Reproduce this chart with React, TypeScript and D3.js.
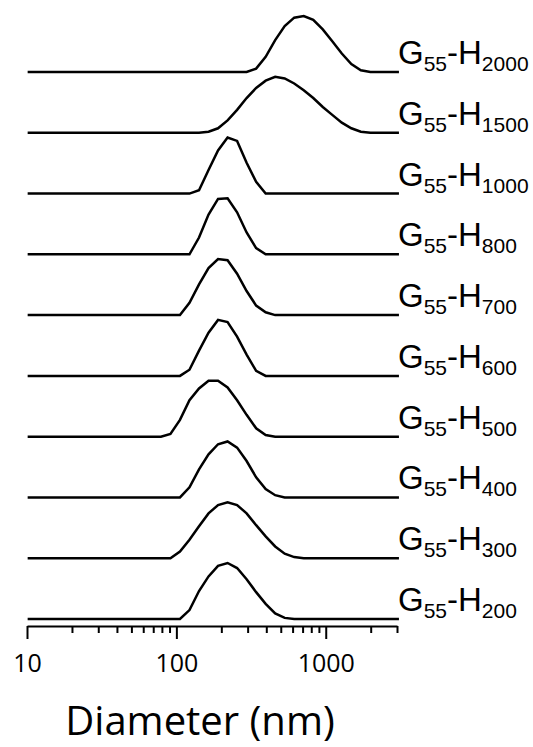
import React, { useEffect, useRef } from "react";
import * as d3 from "d3";

// DLS size bins (nm)
const sizes = [
  10.1, 11.7, 13.54, 15.69, 18.17, 21.04, 24.36, 28.21, 32.67, 37.84,
  43.82, 50.75, 58.77, 68.06, 78.82, 91.28, 105.7, 122.4, 141.8, 164.2,
  190.1, 220.2, 255.0, 295.3, 342.0, 396.1, 458.7, 531.2, 615.1, 712.4,
  825.0, 955.4, 1106, 1281, 1484, 1718, 1990, 2305, 2669, 3091,
];

// normalised intensity, one value per bin
const h2000 = [0,0,0,0,0,0,0,0,0,0,0,0,0,0, 0,0,0,0,0,0,0,0,0,0, 6,27,57,82,97,100,93,76,55,33,14,3, 0,0,0,0];
const h1500 = [0,0,0,0,0,0,0,0,0,0,0,0,0,0, 0,0,0,0,0, 2,8,22,41,62,80,93,100,97,88,76,62,46,32,18,8,2, 0,0,0,0];
const h1000 = [0,0,0,0,0,0,0,0,0,0,0,0,0,0, 0,0,0,0, 6,42,77,100,94,55,21, 0,0,0,0,0,0,0,0,0,0,0,0,0,0,0];
const h800 = [0,0,0,0,0,0,0,0,0,0,0,0,0,0, 0,0,0,0, 30,71,99,100,75,39,11, 0,0,0,0,0,0,0,0,0,0,0,0,0,0,0];
const h700 = [0,0,0,0,0,0,0,0,0,0,0,0,0,0, 0,0,0, 22,55,84,100,98,74,43,17,5, 0,0,0,0,0,0,0,0,0,0,0,0,0,0];
const h600 = [0,0,0,0,0,0,0,0,0,0,0,0,0,0, 0,0,0, 11,45,77,100,96,70,38,9, 0,0,0,0,0,0,0,0,0,0,0,0,0,0,0];
const h500 = [0,0,0,0,0,0,0,0,0,0,0,0,0,0, 0, 5,30,65,86,100,100,88,65,39,15,3, 0,0,0,0,0,0,0,0,0,0,0,0,0,0];
const h400 = [0,0,0,0,0,0,0,0,0,0,0,0,0,0, 0,0,0, 18,50,77,95,100,89,65,36,15,4, 0,0,0,0,0,0,0,0,0,0,0,0,0];
const h300 = [0,0,0,0,0,0,0,0,0,0,0,0,0,0, 0,0, 12,33,57,80,95,100,95,80,59,39,21,8,2, 0,0,0,0,0,0,0,0,0,0,0];
const h200 = [0,0,0,0,0,0,0,0,0,0,0,0,0,0, 0,0,0, 16,50,76,95,100,91,71,48,27,10,2, 0,0,0,0,0,0,0,0,0,0,0,0];

const samples = ["2000", "1500", "1000", "800", "700", "600", "500", "400", "300", "200"];
const series = [h2000, h1500, h1000, h800, h700, h600, h500, h400, h300, h200];

const majorTicks = [10, 100, 1000];
const minorTicks = [20, 30, 40, 50, 60, 70, 80, 90, 200, 300, 400, 500, 600, 700, 800, 900, 2000, 3000];

const W = 533;
const H = 747;

const App = () => {
  const svg = useRef<SVGSVGElement>(null);

  useEffect(() => {
    const root = d3.select(svg.current);
    root.selectAll("*").remove();

    const x = d3.scaleLog().domain([10, 3000]).range([27, 397]);
    const row = d3.scalePoint<string>().domain(samples).range([72, 619]);
    const y = d3.scaleLinear().domain([0, 100]).range([0, 56]);
    const axisY = 626;

    // curves
    samples.forEach((s, i) => {
      const base = row(s) as number;
      const line = d3
        .line<number>()
        .x((_, j) => x(sizes[j]))
        .y((d) => base - y(d));
      root
        .append("path")
        .datum(series[i])
        .attr("d", line)
        .attr("fill", "none")
        .attr("stroke", "#000")
        .attr("stroke-width", 2.5);

      const t = root
        .append("text")
        .attr("x", 398)
        .attr("y", base - 8)
        .attr("font-family", "'Liberation Sans', Arial, sans-serif")
        .attr("font-size", 33)
        .attr("fill", "#000");
      t.append("tspan").text("G");
      t.append("tspan").attr("font-size", 21).attr("dy", 7).text("55");
      t.append("tspan").attr("dy", -7).text("-H");
      t.append("tspan").attr("font-size", 21).attr("dy", 7).text(s);
    });

    // minor ticks
    const minor = root
      .append("g")
      .attr("transform", `translate(0, ${axisY})`)
      .call(
        d3.axisBottom(x).tickValues(minorTicks).tickSize(7).tickSizeOuter(0).tickFormat(() => "")
      );
    minor.select(".domain").remove();
    minor.selectAll("line").attr("stroke", "#000").attr("stroke-width", 2);

    // major ticks + labels
    const major = root
      .append("g")
      .attr("transform", `translate(0, ${axisY})`)
      .call(
        d3.axisBottom(x).tickValues(majorTicks).tickSize(13).tickSizeOuter(0).tickFormat(d3.format("d"))
      );
    major.select(".domain").attr("stroke", "#000").attr("stroke-width", 2);
    major.selectAll("line").attr("stroke", "#000").attr("stroke-width", 2);
    major
      .selectAll("text")
      .attr("y", 46)
      .attr("dy", 0)
      .attr("font-family", "'Open Sans', sans-serif")
      .attr("font-size", 25)
      .attr("fill", "#000");

    root
      .append("text")
      .attr("x", 200)
      .attr("y", 735)
      .attr("text-anchor", "middle")
      .attr("font-family", "'Open Sans', sans-serif")
      .attr("font-size", 40)
      .attr("fill", "#000")
      .text("Diameter (nm)");
  }, []);

  return (
    <svg
      ref={svg}
      width={W}
      height={H}
      style={{ position: "absolute", left: 0, top: 0, background: "#fff" }}
    />
  );
};

export default App;
